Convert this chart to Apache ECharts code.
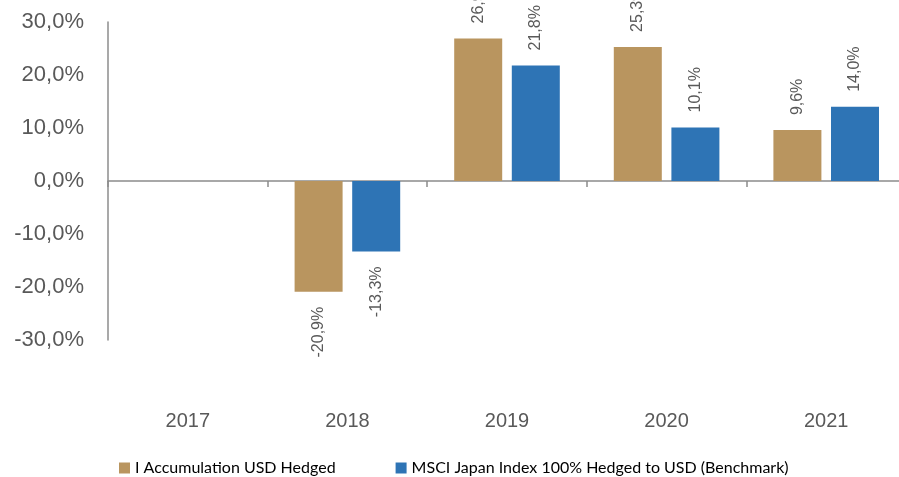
<!DOCTYPE html>
<html>
<head>
<meta charset="utf-8">
<script src="https://cdn.jsdelivr.net/npm/echarts@6/dist/echarts.min.js"></script>
<style>
  html, body { margin: 0; padding: 0; background: #fff; }
  #chart { width: 899px; height: 477px; }
</style>
</head>
<body>
<div id="chart"></div>
<script>
// data
var years = ['2017', '2018', '2019', '2020', '2021'];
var fundName = 'I Accumulation USD Hedged';
var benchName = 'MSCI Japan Index 100% Hedged to USD (Benchmark)';
var fundValues = [null, -20.9, 26.9, 25.3, 9.6];
var benchValues = [null, -13.3, 21.8, 10.1, 14.0];
var yTicks = [-30, -20, -10, 0, 10, 20, 30];

var textGray = '#595959';
var axisGray = '#8c8c8c';
var font = 'Liberation Sans';

function pct(v) {
    return v.toFixed(1).replace('.', ',') + '%';
}

// label on top for positive bars, below for negative ones, rotated 90°
function barData(values) {
    return values.map(function (v) {
        if (v == null) return null;
        if (v < 0) {
            return {
                value: v,
                label: { position: 'bottom', align: 'right' }
            };
        }
        return v;
    });
}

var myChart = echarts.init(document.getElementById('chart'));

var option = {
    animation: false,
    textStyle: { fontFamily: font },
    color: ['#B9955F', '#2E74B5'],
    grid: {
        left: 108,
        top: 22,
        bottom: 137,
        width: 798,
        outerBoundsMode: 'none'
    },
    legend: {
        top: 455,
        left: 114,
        itemWidth: 11,
        itemHeight: 11,
        itemGap: 60,
        icon: 'rect',
        textStyle: { fontFamily: 'Lato', fontSize: 16, color: '#000' },
        data: [fundName, benchName]
    },
    xAxis: [
        {
            // labels only, at the bottom of the plot
            type: 'category',
            data: years,
            position: 'bottom',
            axisLine: { show: false, onZero: false },
            axisTick: { show: false },
            axisLabel: { margin: 71, fontSize: 20, color: textGray, fontFamily: font }
        },
        {
            // the zero line with its ticks
            type: 'category',
            data: years,
            position: 'top',
            axisLine: { show: true, onZero: true, lineStyle: { color: axisGray, width: 1.5 } },
            axisTick: { show: true, inside: true, length: 6, lineStyle: { color: axisGray, width: 1.5 } },
            axisLabel: { show: false }
        }
    ],
    yAxis: {
        type: 'value',
        min: yTicks[0],
        max: yTicks[yTicks.length - 1],
        interval: 10,
        splitLine: { show: false },
        axisTick: { show: false },
        axisLine: { show: true, onZero: false, lineStyle: { color: axisGray, width: 1.5 } },
        axisLabel: {
            margin: 24,
            fontSize: 22,
            color: textGray,
            fontFamily: font,
            formatter: function (v) { return pct(v); }
        }
    },
    series: [
        {
            name: fundName,
            type: 'bar',
            xAxisIndex: 0,
            barWidth: 48,
            barGap: '20%',
            data: barData(fundValues)
        },
        {
            name: benchName,
            type: 'bar',
            xAxisIndex: 0,
            barWidth: 48,
            barGap: '20%',
            data: barData(benchValues)
        }
    ]
};

option.series.forEach(function (s) {
    s.label = {
        show: true,
        position: 'top',
        rotate: 90,
        align: 'left',
        verticalAlign: 'middle',
        distance: 15,
        fontSize: 16,
        fontFamily: font,
        color: textGray,
        formatter: function (p) { return pct(p.value); }
    };
});

myChart.setOption(option);
</script>
</body>
</html>
